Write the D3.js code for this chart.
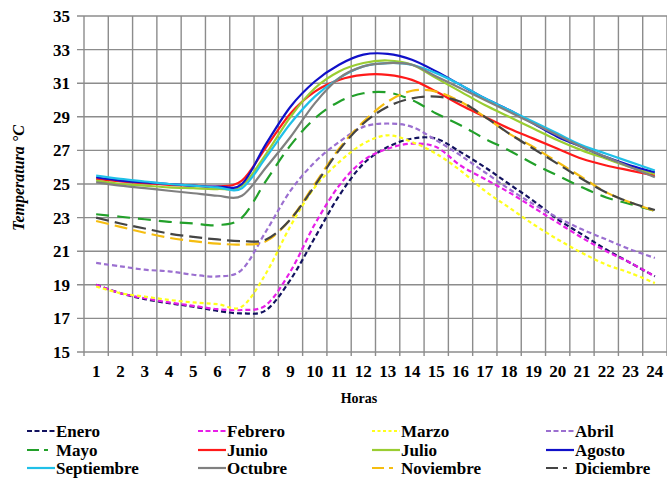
<!DOCTYPE html>
<html>
<head>
<meta charset="utf-8">
<script src="https://cdn.jsdelivr.net/npm/d3@7"></script>
<style>
  html, body { margin: 0; padding: 0; background: #fff; }
  svg { display: block; }
  text { font-family: "Liberation Serif", "Times New Roman", serif; font-weight: bold; fill: #000; }
</style>
</head>
<body>
<svg id="chart" width="667" height="480"></svg>
<script>
// Hourly temperature profiles (°C) for each month
const hours = [1, 2, 3, 4, 5, 6, 7, 8, 9, 10, 11, 12, 13, 14, 15, 16, 17, 18, 19, 20, 21, 22, 23, 24];
const yTicks = [15, 17, 19, 21, 23, 25, 27, 29, 31, 33, 35];
const months = ["Enero", "Febrero", "Marzo", "Abril", "Mayo", "Junio", "Julio", "Agosto",
                "Septiembre", "Octubre", "Noviembre", "Diciembre"];

const enero      = [19.0, 18.5, 18.15, 17.9, 17.7, 17.45, 17.3, 17.5, 19.3, 21.8, 24.3, 26.2, 27.2, 27.7, 27.7, 26.9, 26.0, 25.0, 24.0, 22.9, 22.0, 21.1, 20.3, 19.5];
const febrero    = [19.0, 18.5, 18.2, 17.95, 17.75, 17.55, 17.5, 17.8, 19.8, 22.6, 24.9, 26.4, 27.1, 27.4, 27.2, 26.1, 25.3, 24.5, 23.6, 22.7, 21.8, 21.0, 20.3, 19.5];
const marzo      = [18.9, 18.5, 18.3, 18.1, 17.95, 17.85, 17.7, 19.7, 22.5, 24.8, 26.3, 27.4, 27.9, 27.5, 26.8, 25.8, 24.6, 23.6, 22.6, 21.7, 20.9, 20.2, 19.7, 19.1];
const abril      = [20.3, 20.1, 19.9, 19.8, 19.6, 19.5, 19.9, 22.2, 24.6, 26.3, 27.5, 28.4, 28.6, 28.4, 27.6, 26.7, 25.7, 24.7, 23.8, 23.0, 22.3, 21.7, 21.1, 20.6];
const mayo       = [23.2, 23.05, 22.9, 22.75, 22.65, 22.55, 23.0, 25.2, 27.3, 28.9, 29.9, 30.4, 30.45, 30.0, 29.2, 28.5, 27.7, 27.0, 26.2, 25.5, 24.8, 24.2, 23.8, 23.4];
const junio      = [25.3, 25.15, 25.05, 24.95, 24.9, 24.85, 25.2, 27.2, 29.2, 30.5, 31.2, 31.5, 31.5, 31.2, 30.5, 29.7, 29.0, 28.3, 27.7, 27.1, 26.5, 26.1, 25.8, 25.5];
const julio      = [25.2, 25.0, 24.9, 24.8, 24.75, 24.7, 24.9, 26.8, 29.0, 30.7, 31.7, 32.2, 32.35, 32.1, 31.3, 30.5, 29.7, 29.0, 28.3, 27.6, 27.0, 26.5, 26.0, 25.6];
const agosto     = [25.4, 25.2, 25.1, 25.0, 24.9, 24.85, 25.0, 27.4, 29.6, 31.1, 32.1, 32.7, 32.75, 32.4, 31.7, 30.9, 30.1, 29.4, 28.6, 27.8, 27.2, 26.6, 26.1, 25.7];
const septiembre = [25.5, 25.3, 25.15, 25.0, 24.9, 24.8, 24.75, 26.6, 28.6, 30.2, 31.3, 32.0, 32.2, 32.1, 31.6, 30.9, 30.1, 29.4, 28.7, 28.0, 27.3, 26.8, 26.3, 25.8];
const octubre    = [25.1, 24.9, 24.75, 24.6, 24.45, 24.3, 24.3, 26.0, 27.8, 29.8, 31.3, 32.0, 32.2, 32.1, 31.4, 30.7, 30.0, 29.3, 28.6, 27.9, 27.2, 26.6, 26.0, 25.4];
const noviembre  = [22.8, 22.45, 22.1, 21.8, 21.6, 21.45, 21.4, 21.6, 22.9, 25.0, 27.1, 28.7, 29.9, 30.55, 30.5, 29.9, 29.0, 28.0, 27.2, 26.3, 25.4, 24.5, 23.9, 23.4];
const diciembre  = [23.0, 22.65, 22.35, 22.05, 21.85, 21.7, 21.6, 21.7, 22.9, 24.9, 27.0, 28.6, 29.6, 30.1, 30.2, 29.9, 29.0, 28.0, 27.1, 26.2, 25.3, 24.5, 23.9, 23.45];

const seriesValues = [enero, febrero, marzo, abril, mayo, junio, julio, agosto,
                      septiembre, octubre, noviembre, diciembre];

// Styling per month
const colors = ["#12125f", "#e81ee8", "#ffff1a", "#9b6fd0", "#22a02a", "#ff1a1a",
                "#9acd32", "#1010c8", "#20c0e8", "#808080", "#f5bd10", "#444444"];
const lineDash = ["5,3", "5,3", "4,3", "5,3", "13,8", null, null, null, null, null, "13,6", "13,6"];
const legendDash = ["5,2.5", "5,2.5", "3,2.5", "5,2.5", "12,5,4,9", null, null, null, null, null, "12,5,4,9", "12,5,4,9"];

const svg = d3.select("#chart");

const x = d3.scaleBand().domain(hours).range([84, 667]);
const y = d3.scaleLinear().domain([15, 35]).range([352, 16]);
const xc = h => x(h) + x.bandwidth() / 2;

// Grid
const grid = svg.append("g").attr("stroke", "#8c8c8c").attr("stroke-width", 1.4);
grid.selectAll("line.hgrid").data(yTicks).join("line")
  .attr("class", "hgrid")
  .attr("x1", 77).attr("x2", 667)
  .attr("y1", d => y(d)).attr("y2", d => y(d));
const vBounds = hours.map(h => x(h)).concat([x.range()[1]]);
grid.selectAll("line.vgrid").data(vBounds).join("line")
  .attr("class", "vgrid")
  .attr("x1", d => d).attr("x2", d => d)
  .attr("y1", y(35)).attr("y2", y(15) + 4);

// Axes (labels only; grid drawn above)
const yAxis = svg.append("g").attr("transform", "translate(84,0)")
  .call(d3.axisLeft(y).tickValues(yTicks).tickSize(0).tickPadding(14));
yAxis.select(".domain").remove();
yAxis.selectAll("text").style("font-size", "17px")
  .style("font-family", "'Liberation Serif', serif").style("font-weight", "bold");

const xAxis = svg.append("g").attr("transform", "translate(0,352)")
  .call(d3.axisBottom(x).tickSize(0).tickPadding(13));
xAxis.select(".domain").remove();
xAxis.selectAll("text").style("font-size", "17px")
  .style("font-family", "'Liberation Serif', serif").style("font-weight", "bold");

// Axis titles
svg.append("text")
  .attr("x", 359).attr("y", 398).attr("dy", "0.35em")
  .attr("text-anchor", "middle").style("font-size", "14px")
  .text("Horas");
svg.append("text")
  .attr("transform", "translate(18,178) rotate(-90)")
  .attr("text-anchor", "middle").attr("dy", "0.35em")
  .style("font-size", "16px").style("font-style", "italic")
  .text("Temperatura °C");

// Series lines
const line = d3.line()
  .x((d, i) => xc(hours[i]))
  .y(d => y(d))
  .curve(d3.curveCardinal.tension(0));

svg.append("g").selectAll("path").data(seriesValues).join("path")
  .attr("d", d => line(d))
  .attr("fill", "none")
  .attr("stroke", (d, i) => colors[i])
  .attr("stroke-width", 2.2)
  .attr("stroke-dasharray", (d, i) => lineDash[i]);

// Legend
const legCols = [27, 198, 372, 546];
const legRows = [431, 450, 468];
const legend = svg.append("g").selectAll("g").data(months).join("g")
  .attr("transform", (d, i) => `translate(${legCols[i % 4]},${legRows[Math.floor(i / 4)]})`);
legend.append("line")
  .attr("x1", 0).attr("x2", 28).attr("y1", 0).attr("y2", 0)
  .attr("stroke", (d, i) => colors[i])
  .attr("stroke-width", 2.2)
  .attr("stroke-dasharray", (d, i) => legendDash[i]);
legend.append("text")
  .attr("x", 29).attr("dy", "0.35em")
  .style("font-size", "17px")
  .text(d => d);
</script>
</body>
</html>
